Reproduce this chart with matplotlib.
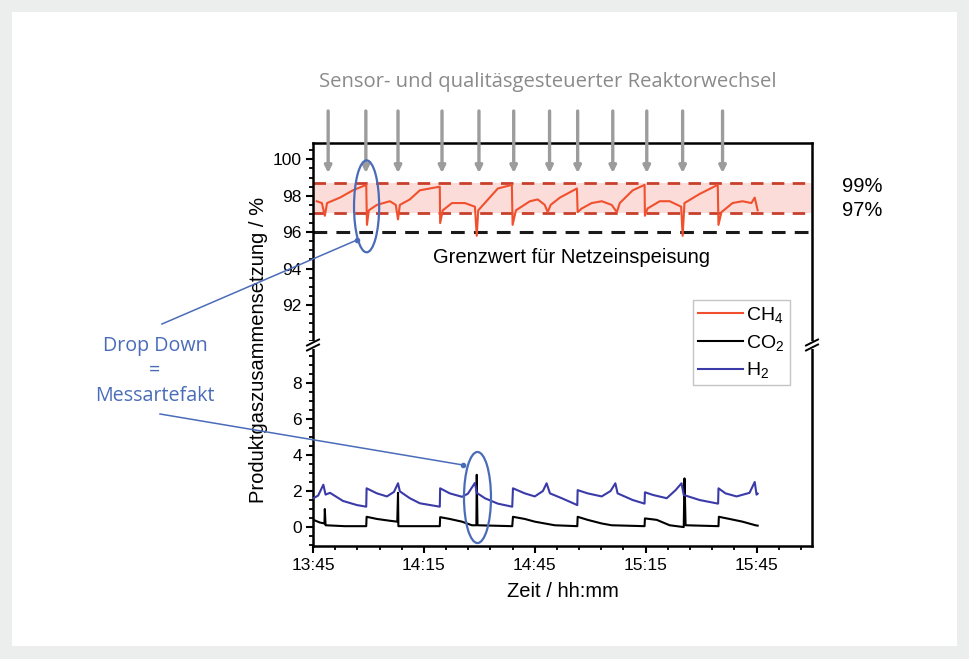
import matplotlib.pyplot as plt
from matplotlib.patches import Ellipse, Rectangle
from matplotlib.ticker import FixedLocator, MultipleLocator, FixedFormatter

plt.rcParams["font.family"] = ["Liberation Sans", "DejaVu Sans"]
plt.rcParams["mathtext.fontset"] = "custom"
plt.rcParams["mathtext.rm"] = "Liberation Sans"
plt.rcParams["mathtext.it"] = "Liberation Sans"

# --- data (time = minutes after 13:45) -------------------------------------
ch4_t = [1.0, 2.4, 3.2, 3.8, 7.3, 10.8, 14.4, 14.6, 15.1, 17.3, 20.8, 22.4,
         23.0, 23.5, 26.2, 28.9, 34.3, 34.4, 35.1, 37.6, 41.1, 43.8, 44.3,
         44.7, 47.8, 50.0, 53.8, 54.0, 54.9, 58.7, 60.8, 62.7, 63.5, 64.3,
         66.8, 71.4, 71.6, 72.7, 75.4, 78.1, 80.8, 82.2, 83.0, 86.5, 89.7,
         89.8, 90.5, 93.8, 96.5, 99.6, 100.0, 100.5, 104.6, 109.5, 109.7,
         110.5, 113.5, 116.2, 118.6, 119.5, 120.3]
ch4_v = [97.7, 97.6, 96.9, 97.6, 97.9, 98.3, 98.6, 96.4, 97.2, 97.5, 97.7, 97.5,
         96.7, 97.5, 97.8, 98.3, 98.5, 96.5, 97.2, 97.6, 97.6, 97.4, 95.8,
         97.2, 97.9, 98.4, 98.6, 96.4, 97.2, 97.7, 97.8, 97.5, 97.1, 97.5,
         97.9, 98.4, 97.1, 97.3, 97.6, 97.7, 97.5, 97.1, 97.6, 98.3, 98.6,
         96.9, 97.3, 97.7, 97.7, 97.4, 95.8, 97.6, 98.1, 98.6, 96.4,
         97.1, 97.6, 97.7, 97.6, 97.9, 97.2]

h2_t = [0.1, 1.4, 2.8, 3.4, 4.6, 8.1, 11.9, 14.4, 14.5, 17.3, 20.0, 21.9,
        23.0, 23.5, 26.2, 28.9, 34.3, 34.4, 37.0, 40.3, 41.9, 43.8, 44.3,
        46.5, 50.0, 53.9, 54.1, 57.3, 60.0, 62.2, 63.2, 64.1, 67.3, 71.5,
        71.6, 74.3, 78.1, 80.5, 81.8, 82.4, 86.5, 89.7, 89.8, 92.0, 95.7,
        98.1, 99.7, 100.3, 104.6, 109.6, 109.7, 111.6, 114.6, 118.1, 119.5,
        120.0, 120.3]
h2_v = [1.6, 1.75, 2.35, 1.8, 1.9, 1.45, 1.22, 1.13, 2.15, 1.87, 1.7, 1.95,
        2.43, 1.98, 1.6, 1.32, 1.13, 2.15, 1.87, 1.68, 1.85, 2.45, 1.9,
        1.6, 1.3, 1.13, 2.15, 1.87, 1.7, 2.0, 2.43, 1.87, 1.6, 1.22,
        2.05, 1.87, 1.7, 2.0, 2.43, 1.87, 1.5, 1.3, 1.93, 1.78, 1.6,
        2.05, 2.43, 1.78, 1.5, 1.3, 2.15, 1.87, 1.7, 1.9, 2.5,
        1.8, 1.85]

co2_t = [0.1, 1.9, 3.1, 3.2, 3.4, 8.6, 14.4, 14.5, 17.3, 20.8, 22.8, 23.0,
         23.1, 28.9, 34.3, 34.4, 37.0, 40.3, 43.0, 44.2, 44.3, 44.5, 53.9,
         54.1, 57.3, 60.0, 62.7, 65.4, 71.5, 71.6, 74.3, 78.1, 80.8, 89.7,
         89.8, 93.0, 96.5, 100.3, 100.5, 100.8, 109.7, 109.8, 112.7, 116.2,
         119.7, 120.3]
co2_v = [0.4, 0.25, 0.2, 1.0, 0.1, 0.05, 0.05, 0.57, 0.45, 0.35, 0.3, 1.9,
         0.05, 0.05, 0.05, 0.55, 0.45, 0.3, 0.1, 0.1, 2.9, 0.1, 0.05,
         0.57, 0.45, 0.3, 0.2, 0.1, 0.05, 0.57, 0.4, 0.2, 0.1, 0.05,
         0.48, 0.4, 0.1, 0.0, 2.7, 0.1, 0.05, 0.57, 0.45, 0.3,
         0.1, 0.08]

# reactor switches (gray arrows on top)
switch_t = [4.1, 14.3, 23.0, 34.9, 44.9, 54.3, 64.0, 71.6, 81.1, 90.3, 100.0, 110.8]

band_lo, band_hi = 97.05, 98.7   # "97%" / "99%" lines
grid_limit = 96.0

time_ticks = [0, 30, 60, 90, 120]
time_labels = ["13:45", "14:15", "14:45", "15:15", "15:45"]

# --- figure -----------------------------------------------------------------
W, H = 970, 659
fig = plt.figure(figsize=(W / 100, H / 100), dpi=100)
fig.patch.set_facecolor("#eceeee")
fig.patches.append(Rectangle((12 / W, 1 - 646 / H), 945 / W, 634 / H,
                             transform=fig.transFigure, facecolor="white",
                             edgecolor="none", zorder=-10))


def fx(px):
    return px / W


def fy(py):
    return 1 - py / H


ax_top = fig.add_axes([fx(313), fy(345), 499 / W, 202 / H])
ax_bot = fig.add_axes([fx(313), fy(546), 499 / W, 201 / H])

RED = "#f0502d"
DRED = "#c8402c"
BLUE = "#3a3aa8"
ANN = "#4a6cb8"

for ax in (ax_top, ax_bot):
    ax.set_xlim(0, 135)
    ax.set_facecolor("none")
    for s in ax.spines.values():
        s.set_linewidth(1.8)
    ax.tick_params(axis="y", which="major", direction="out", length=5, width=1.5,
                   labelsize=12.5, pad=3)
    ax.tick_params(axis="y", which="minor", direction="out", length=3, width=1.3)
    ax.yaxis.set_minor_locator(MultipleLocator(0.5))

# upper panel: CH4
ax_top.set_ylim(89.8, 100.9)
ax_top.set_yticks([92, 94, 96, 98, 100])
ax_top.spines["bottom"].set_visible(False)
ax_top.tick_params(axis="x", which="both", bottom=False, labelbottom=False)
ax_top.axhspan(band_lo, band_hi, color="#fcdcd8", lw=0, zorder=0)
ax_top.axhline(band_hi, color=DRED, lw=2.0, ls=(0, (4.5, 3)), zorder=1)
ax_top.axhline(band_lo, color=DRED, lw=2.0, ls=(0, (4.5, 3)), zorder=1)
ax_top.axhline(grid_limit, color="#1a1a1a", lw=2.2, ls=(0, (4.5, 3)), zorder=1)
l_ch4, = ax_top.plot(ch4_t, ch4_v, color=RED, lw=1.5, zorder=3, label=r"CH$_4$")
ax_top.text(70, 94.6, "Grenzwert für Netzeinspeisung", ha="center", va="center",
            fontsize=14.5)

# lower panel: CO2, H2
ax_bot.set_ylim(-1.05, 10.1)
ax_bot.set_yticks([0, 2, 4, 6, 8])
ax_bot.spines["top"].set_visible(False)
l_co2, = ax_bot.plot(co2_t, co2_v, color="black", lw=1.5, zorder=3, label=r"CO$_2$")
l_h2, = ax_bot.plot(h2_t, h2_v, color=BLUE, lw=1.5, zorder=3, label=r"H$_2$")
ax_bot.xaxis.set_major_locator(FixedLocator(time_ticks))
ax_bot.xaxis.set_major_formatter(FixedFormatter(time_labels))
ax_bot.xaxis.set_minor_locator(MultipleLocator(6))
ax_bot.tick_params(axis="x", which="major", direction="out", length=5, width=1.5,
                   labelsize=12.5, pad=4)
ax_bot.tick_params(axis="x", which="minor", direction="out", length=3, width=1.3)
ax_bot.set_xlabel("Zeit / hh:mm", fontsize=14.5, labelpad=6)

fig.text(fx(259), fy(350), "Produktgaszusammensetzung / %", rotation=90,
         ha="center", va="center", fontsize=14.5)

# right-side band labels
fig.text(fx(842), fy(187), "99%", ha="left", va="center", fontsize=14.5)
fig.text(fx(842), fy(210), "97%", ha="left", va="center", fontsize=14.5)

# axis break marks
for xp in (313, 812):
    fig.patches.append(Rectangle((fx(xp - 5), fy(349)), 10 / W, 8 / H,
                                 transform=fig.transFigure, facecolor="white",
                                 edgecolor="none", zorder=20))
    for dy in (-2.5, 2.5):
        fig.add_artist(plt.Line2D([fx(xp - 6), fx(xp + 6)],
                                  [fy(345 + dy + 3), fy(345 + dy - 3)],
                                  transform=fig.transFigure, color="black",
                                  lw=1.4, zorder=21))

# legend
fig.legend(handles=[l_ch4, l_co2, l_h2], loc="upper left",
           bbox_to_anchor=(fx(693), fy(300)), fontsize=14, frameon=True,
           fancybox=False, edgecolor="#c4c4c4", framealpha=1,
           handlelength=2.3, handletextpad=0.2, borderpad=0.25,
           labelspacing=0.4, borderaxespad=0)

# reactor switch arrows + caption
for t in switch_t:
    ax_top.annotate("", xy=(t, fy(173)), xytext=(t, fy(111)),
                    xycoords=("data", "figure fraction"),
                    textcoords=("data", "figure fraction"),
                    arrowprops=dict(arrowstyle="-|>", color="#9c9c9c", lw=2.4,
                                    mutation_scale=10, shrinkA=0, shrinkB=0),
                    annotation_clip=False)
fig.text(fx(548), fy(82), "Sensor- und qualitäsgesteuerter Reaktorwechsel",
         ha="center", va="center", color="#8a8a8a", fontsize=14.6,
         family="Open Sans")

# drop-down ellipses and annotation
ax_top.add_patch(Ellipse((14.5, 97.42), 6.8, 5.05, fill=False, edgecolor=ANN,
                         lw=1.6, zorder=5, clip_on=False))
ax_bot.add_patch(Ellipse((44.5, 1.64), 7.3, 5.05, fill=False, edgecolor=ANN,
                         lw=1.6, zorder=5, clip_on=False))
for yp, s in [(346, "Drop Down"), (371, "="), (396, "Messartefakt")]:
    fig.text(fx(155), fy(yp), s, ha="center", va="center", color=ANN,
             fontsize=14.2, family="Open Sans")
for (x0, y0), (x1, y1) in [((162, 324), (357, 240)), ((160, 414), (463, 465))]:
    fig.add_artist(plt.Line2D([fx(x0), fx(x1)], [fy(y0), fy(y1)],
                              transform=fig.transFigure, color=ANN, lw=1.1,
                              zorder=6))
    fig.add_artist(plt.Line2D([fx(x1)], [fy(y1)], transform=fig.transFigure,
                              marker="o", ms=3, color=ANN, zorder=6))

fig.savefig("out.png", dpi=100)
